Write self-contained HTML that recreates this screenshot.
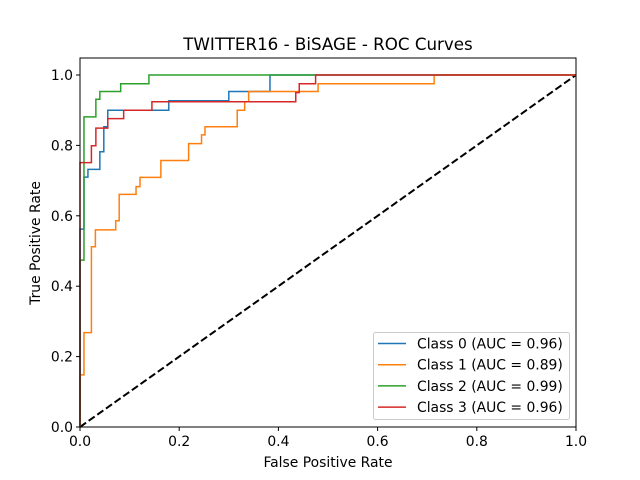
<!DOCTYPE html>
<html><head><meta charset="utf-8"><style>
body{margin:0;background:#fff}
svg{display:block;font-family:"DejaVu Sans","Liberation Sans",sans-serif}
</style></head><body>
<svg id="chart" width="640" height="480" viewBox="0 0 640 480" xmlns="http://www.w3.org/2000/svg">
<rect width="640" height="480" fill="#fff"/>
<text x="328" y="50" font-size="16.7" text-anchor="middle">TWITTER16 - BiSAGE - ROC Curves</text>
<g id="plot"></g>
<text x="328" y="467" font-size="13.9" text-anchor="middle">False Positive Rate</text>
<text transform="translate(40,243) rotate(-90)" font-size="13.9" text-anchor="middle">True Positive Rate</text>
</svg>
<script>
const classNames = ["Class 0 (AUC = 0.96)","Class 1 (AUC = 0.89)","Class 2 (AUC = 0.99)","Class 3 (AUC = 0.96)"];
const colors = ["#1f77b4","#ff7f0e","#2ca02c","#d62728"];
const fpr0 = [0,0,0.008,0.008,0.016,0.016,0.040,0.040,0.048,0.048,0.056,0.056,0.179,0.179,0.300,0.300,0.383,0.383,1];
const tpr0 = [0,0.562,0.562,0.71,0.71,0.732,0.732,0.782,0.782,0.853,0.853,0.90,0.90,0.927,0.927,0.953,0.953,1,1];
const fpr1 = [0,0,0.008,0.008,0.023,0.023,0.031,0.031,0.072,0.072,0.079,0.079,0.113,0.113,0.121,0.121,0.163,0.163,0.219,0.219,0.245,0.245,0.252,0.252,0.317,0.317,0.332,0.332,0.340,0.340,0.480,0.480,0.714,0.714,1];
const tpr1 = [0,0.148,0.148,0.268,0.268,0.512,0.512,0.56,0.56,0.586,0.586,0.661,0.661,0.683,0.683,0.709,0.709,0.757,0.757,0.805,0.805,0.83,0.83,0.853,0.853,0.90,0.90,0.924,0.924,0.953,0.953,0.975,0.975,1,1];
const fpr2 = [0,0,0.008,0.008,0.032,0.032,0.040,0.040,0.082,0.082,0.139,0.139,1];
const tpr2 = [0,0.474,0.474,0.881,0.881,0.931,0.931,0.953,0.953,0.975,0.975,1,1];
const fpr3 = [0,0,0.023,0.023,0.032,0.032,0.056,0.056,0.088,0.088,0.145,0.145,0.435,0.435,0.442,0.442,0.475,0.475,1];
const tpr3 = [0,0.751,0.751,0.799,0.799,0.849,0.849,0.876,0.876,0.90,0.90,0.924,0.924,0.95,0.95,0.975,0.975,1,1];
const xTicks = [0,0.2,0.4,0.6,0.8,1.0];
const yTicks = [0,0.2,0.4,0.6,0.8,1.0];
const tickLabelsX = ["0.0","0.2","0.4","0.6","0.8","1.0"];
const tickLabelsY = ["0.0","0.2","0.4","0.6","0.8","1.0"];

const NS="http://www.w3.org/2000/svg";
const L=80,R=576,B=427,T=58;
const sx=v=>L+(R-L)*v;
const sy=v=>B-352*v;
const g=document.getElementById('plot');
function mk(tag,attrs){const e=document.createElementNS(NS,tag);for(const k in attrs)e.setAttribute(k,attrs[k]);g.appendChild(e);return e;}
let d=mk('line',{x1:sx(0),y1:sy(0),x2:sx(1),y2:sy(1),stroke:'#000','stroke-width':2,'stroke-dasharray':'7.4,3.2'});


const series=[[fpr0,tpr0],[fpr1,tpr1],[fpr2,tpr2],[fpr3,tpr3]];
series.forEach((s,i)=>{
  const pts=s[0].map((x,j)=>sx(x).toFixed(2)+','+sy(s[1][j]).toFixed(2)).join(' ');
  const p=mk('polyline',{points:pts,fill:'none',stroke:colors[i],'stroke-width':1.5});
  
  
});
const f=mk('rect',{x:L,y:T,width:R-L,height:B-T,fill:'none',stroke:'#000','stroke-width':1});


xTicks.forEach((t,i)=>{
  mk('line',{x1:sx(t),y1:B,x2:sx(t),y2:B+4,stroke:'#000'});
  const tx=mk('text',{x:sx(t),y:B+19,'font-size':13.9,'text-anchor':'middle'});
  tx.textContent=tickLabelsX[i];
  
  
});
yTicks.forEach((t,i)=>{
  mk('line',{x1:L-4,y1:sy(t),x2:L,y2:sy(t),stroke:'#000'});
  const tx=mk('text',{x:L-7,y:sy(t)+5,'font-size':13.9,'text-anchor':'end'});
  tx.textContent=tickLabelsY[i];
  
  
});
const lg=mk('rect',{x:373.5,y:332.5,width:196,height:87,rx:2,fill:'#fff','fill-opacity':0.8,stroke:'#ccc'});


classNames.forEach((n,i)=>{
  const y=343.5+i*21.2;
  mk('line',{x1:378,y1:y,x2:406,y2:y,stroke:colors[i],'stroke-width':1.5});
  const t=mk('text',{x:417,y:y+5,'font-size':13.9});
  t.textContent=n;
  
  
});
</script>
</body></html>
